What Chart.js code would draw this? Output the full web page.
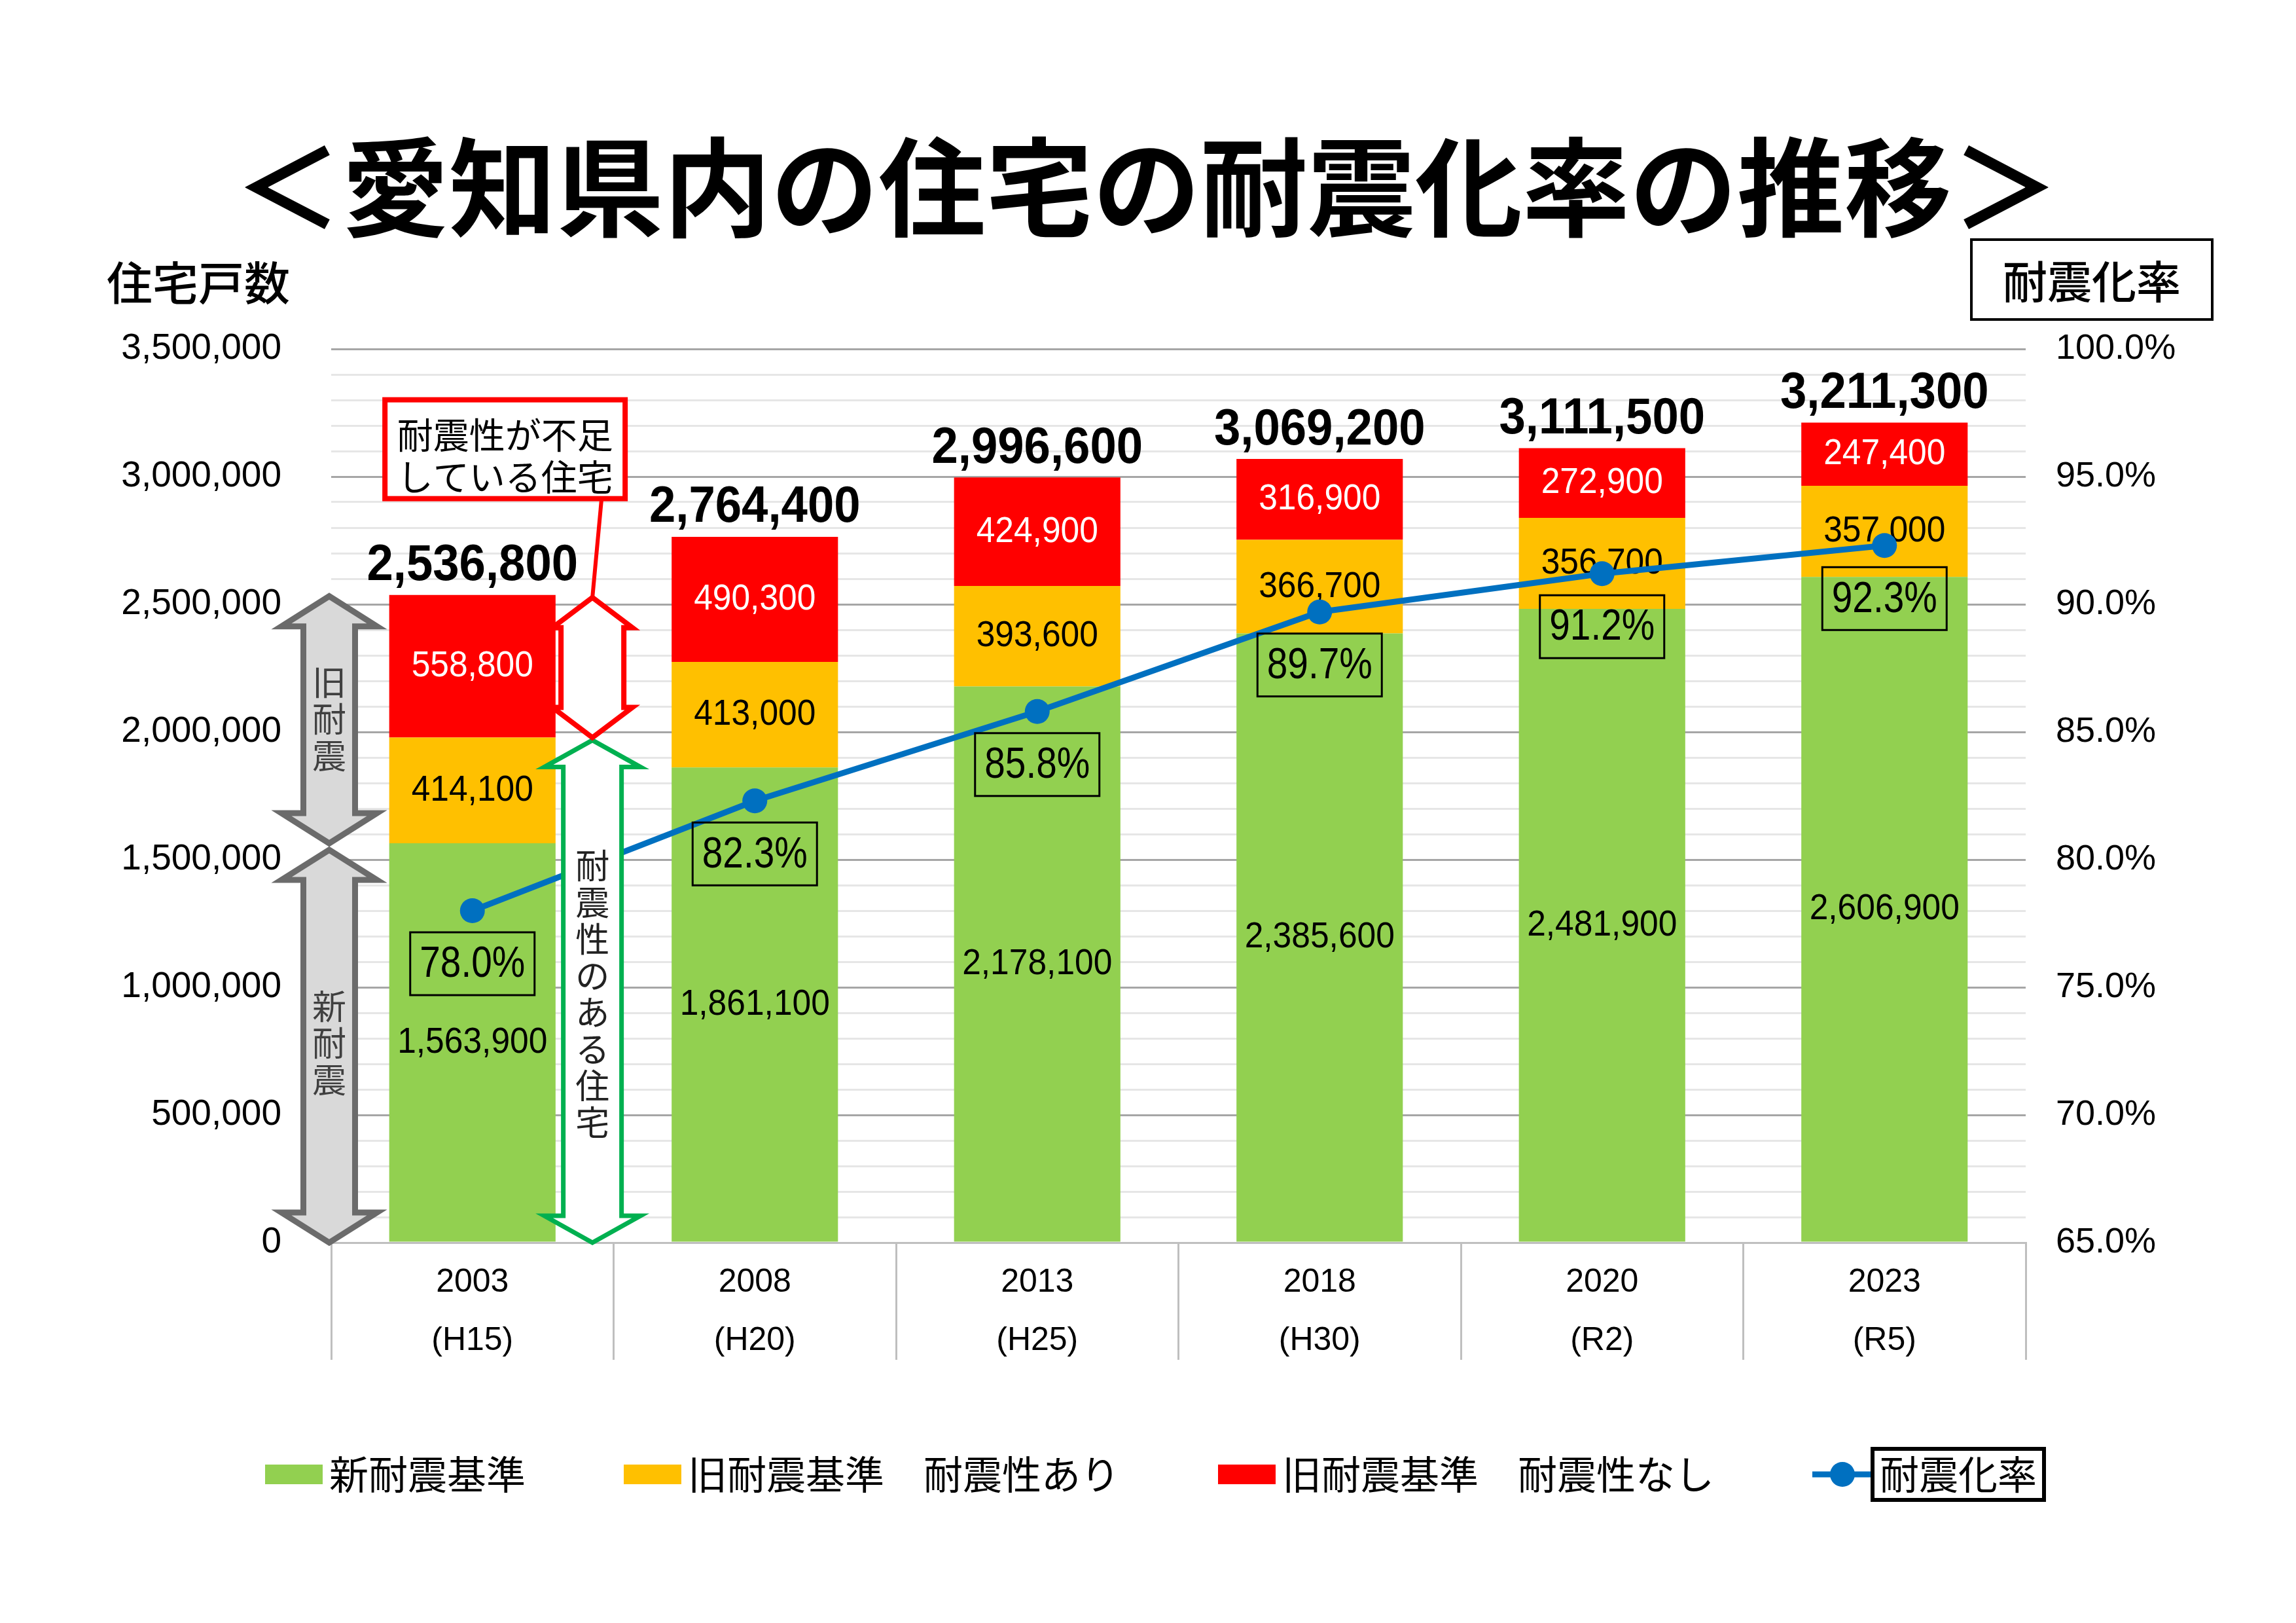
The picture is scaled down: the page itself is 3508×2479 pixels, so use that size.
<!DOCTYPE html>
<html lang="ja">
<head>
<meta charset="utf-8">
<title>愛知県内の住宅の耐震化率の推移</title>
<script src="https://cdn.jsdelivr.net/npm/chart.js@4.4.1/dist/chart.umd.min.js"></script>
<style>
  html, body { margin: 0; padding: 0; background: #fff; }
  canvas { display: block; }
</style>
</head>
<body>
<canvas id="chart" width="3508" height="2479"></canvas>
<script>
// data
const years = [['2003', '(H15)'], ['2008', '(H20)'], ['2013', '(H25)'], ['2018', '(H30)'], ['2020', '(R2)'], ['2023', '(R5)']];
const newStd = [1563900, 1861100, 2178100, 2385600, 2481900, 2606900];
const oldSafe = [414100, 413000, 393600, 366700, 356700, 357000];
const oldUnsafe = [558800, 490300, 424900, 316900, 272900, 247400];
const totals = [2536800, 2764400, 2996600, 3069200, 3111500, 3211300];
const rate = [78.0, 82.3, 85.8, 89.7, 91.2, 92.3];

const countMax = 3500000, countStep = 100000, countLabelStep = 500000;
const rateMin = 65, rateMax = 100, rateStep = 5;

const GREEN = '#92d050', ORANGE = '#ffc000', RED = '#ff0000', BLUE = '#0070c0';
const NUM = "'Liberation Sans', Arial, sans-serif";
const JP = "'Noto Sans CJK JP', 'Noto Sans', sans-serif";
const fmt = v => v.toLocaleString('en-US');

function doubleArrow(ctx, cx, top, bottom, shaftW, headW, headH, fill, stroke, lw) {
    ctx.beginPath();
    ctx.moveTo(cx, top);
    ctx.lineTo(cx + headW / 2, top + headH);
    ctx.lineTo(cx + shaftW / 2, top + headH);
    ctx.lineTo(cx + shaftW / 2, bottom - headH);
    ctx.lineTo(cx + headW / 2, bottom - headH);
    ctx.lineTo(cx, bottom);
    ctx.lineTo(cx - headW / 2, bottom - headH);
    ctx.lineTo(cx - shaftW / 2, bottom - headH);
    ctx.lineTo(cx - shaftW / 2, top + headH);
    ctx.lineTo(cx - headW / 2, top + headH);
    ctx.closePath();
    ctx.fillStyle = fill;
    ctx.fill();
    ctx.lineWidth = lw;
    ctx.strokeStyle = stroke;
    ctx.lineJoin = 'miter';
    ctx.stroke();
}

function verticalText(ctx, text, cx, cy, size, step, color) {
    const chars = [...text];
    const start = cy - (chars.length - 1) * step / 2;
    ctx.font = `${size}px ${JP}`;
    ctx.fillStyle = color;
    ctx.textAlign = 'center';
    ctx.textBaseline = 'middle';
    chars.forEach((c, i) => ctx.fillText(c, cx, start + i * step));
}

// the reference numbers use a condensed face, so squeeze them a bit
function narrowText(ctx, txt, x, y, font, sx) {
    ctx.save();
    ctx.translate(x, y);
    ctx.scale(sx, 1);
    ctx.font = font;
    ctx.textAlign = 'center';
    ctx.textBaseline = 'middle';
    ctx.fillText(txt, 0, 0);
    ctx.restore();
}

// value labels inside the bars, drawn before the line so the line sits on top
const barLabels = {
    id: 'barLabels',
    beforeDatasetDraw(chart, args) {
        if (args.index !== 3) return;
        const ctx = chart.ctx;
        [0, 1, 2].forEach(di => {
            chart.getDatasetMeta(di).data.forEach((bar, i) => {
                ctx.fillStyle = di === 2 ? '#fff' : '#000';
                narrowText(ctx, fmt(chart.data.datasets[di].data[i]), bar.x, (bar.y + bar.base) / 2, `56px ${NUM}`, 0.92);
            });
        });
    }
};

const decorations = {
    id: 'decorations',
    afterDatasetsDraw(chart) {
        const ctx = chart.ctx;
        const xs = chart.scales.x, ys = chart.scales.y;
        const area = chart.chartArea;
        ctx.save();

        // left grey arrows: old / new standard
        const gx = area.left - 3;
        const yTotal = ys.getPixelForValue(totals[0]);
        const yNew = ys.getPixelForValue(newStd[0]);
        const yZero = ys.getPixelForValue(0);
        doubleArrow(ctx, gx, yTotal + 2, yNew, 79, 146, 46, '#d9d9d9', '#6b6b6b', 9);
        doubleArrow(ctx, gx, yNew + 10, yZero, 79, 146, 46, '#d9d9d9', '#6b6b6b', 9);
        verticalText(ctx, '旧耐震', gx, (yTotal + yNew) / 2, 52, 56, '#404040');
        verticalText(ctx, '新耐震', gx, (yNew + yZero) / 2, 52, 56, '#404040');

        // green / red arrows between first and second bar
        const ax = xs.getPixelForValue(0.425);
        const yOld = ys.getPixelForValue(newStd[0] + oldSafe[0]);
        doubleArrow(ctx, ax, yOld + 4, yZero, 89, 147, 41, '#fff', '#00b050', 7);
        verticalText(ctx, '耐震性のある住宅', ax, (yOld + yZero) / 2 + 6, 52, 56, '#222');
        doubleArrow(ctx, ax, yTotal + 4, yOld, 96, 122, 46, '#fff', RED, 8);

        // callout box
        const bx = ax - 317, bw = 367, bt = yTotal - 298, bh = 151;
        ctx.strokeStyle = RED;
        ctx.lineWidth = 6;
        ctx.beginPath();
        ctx.moveTo(ax + 14, bt + bh);
        ctx.lineTo(ax, yTotal + 4);
        ctx.stroke();
        ctx.fillStyle = '#fff';
        ctx.fillRect(bx, bt, bw, bh);
        ctx.lineWidth = 8;
        ctx.strokeRect(bx, bt, bw, bh);
        ctx.fillStyle = '#000';
        ctx.font = `55px ${JP}`;
        ctx.textAlign = 'center';
        ctx.textBaseline = 'middle';
        ctx.fillText('耐震性が不足', bx + bw / 2, bt + 53);
        ctx.fillText('している住宅', bx + bw / 2, bt + 117);

        // totals above bars
        chart.getDatasetMeta(2).data.forEach((bar, i) => {
            narrowText(ctx, fmt(totals[i]), bar.x, bar.y - 44, `bold 78px ${NUM}`, 0.93);
        });

        // boxed rate labels below the points
        ctx.lineWidth = 3;
        ctx.strokeStyle = '#000';
        chart.getDatasetMeta(3).data.forEach((pt, i) => {
            const txt = rate[i].toFixed(1) + '%';
            const cy = pt.y + 81;
            ctx.strokeRect(pt.x - 95, cy - 48, 190, 96);
            narrowText(ctx, txt, pt.x, cy + 2, `66px ${NUM}`, 0.86);
        });
        ctx.restore();
    },
    afterDraw(chart) {
        const ctx = chart.ctx;
        ctx.save();
        ctx.fillStyle = '#000';
        ctx.textBaseline = 'middle';

        ctx.textAlign = 'center';
        ctx.font = `bold 164px ${JP}`;
        ctx.fillText('＜愛知県内の住宅の耐震化率の推移＞', 1752, 286);

        ctx.textAlign = 'left';
        ctx.font = `500 70px ${JP}`;
        ctx.fillText('住宅戸数', 163, 432);

        ctx.lineWidth = 4;
        ctx.strokeStyle = '#000';
        ctx.strokeRect(3012, 366, 368, 122);
        ctx.textAlign = 'center';
        ctx.font = `500 68px ${JP}`;
        ctx.fillText('耐震化率', 3196, 430);

        // legend
        const ly = 2252;
        let lx = 405;
        ctx.font = `60px ${JP}`;
        ctx.textAlign = 'left';
        chart.data.datasets.forEach(ds => {
            const tw = ctx.measureText(ds.label).width;
            if (ds.type === 'line') {
                ctx.strokeStyle = ds.borderColor;
                ctx.lineWidth = 9;
                ctx.beginPath();
                ctx.moveTo(lx, ly);
                ctx.lineTo(lx + 92, ly);
                ctx.stroke();
                ctx.fillStyle = ds.borderColor;
                ctx.beginPath();
                ctx.arc(lx + 46, ly, 19, 0, Math.PI * 2);
                ctx.fill();
                lx += 92;
                ctx.strokeStyle = '#000';
                ctx.lineWidth = 6;
                ctx.strokeRect(lx, ly - 39, tw + 22, 78);
                ctx.fillStyle = '#000';
                ctx.fillText(ds.label, lx + 11, ly);
            } else {
                ctx.fillStyle = ds.backgroundColor;
                ctx.fillRect(lx, ly - 15, 88, 30);
                ctx.fillStyle = '#000';
                ctx.fillText(ds.label, lx + 98, ly);
                lx += 98 + tw + 150;
            }
        });
        ctx.restore();
    }
};

const countGridColor = c => (c.tick && c.tick.value % countLabelStep === 0) ? '#a6a6a6' : '#e6e6e6';

new Chart(document.getElementById('chart'), {
    type: 'bar',
    data: {
        labels: years,
        datasets: [
            { label: '新耐震基準', data: newStd, backgroundColor: GREEN, stack: 's', yAxisID: 'y', order: 1 },
            { label: '旧耐震基準　耐震性あり', data: oldSafe, backgroundColor: ORANGE, stack: 's', yAxisID: 'y', order: 1 },
            { label: '旧耐震基準　耐震性なし', data: oldUnsafe, backgroundColor: RED, stack: 's', yAxisID: 'y', order: 1 },
            {
                type: 'line', label: '耐震化率', data: rate, yAxisID: 'y1', order: 0,
                borderColor: BLUE, backgroundColor: BLUE, borderWidth: 9, tension: 0,
                pointRadius: 19, pointBackgroundColor: BLUE, pointBorderWidth: 0
            }
        ]
    },
    options: {
        responsive: false,
        devicePixelRatio: 1,
        animation: false,
        barPercentage: 0.589,
        categoryPercentage: 1.0,
        layout: { padding: { top: 533, bottom: 402, left: 0, right: 0 } },
        plugins: { legend: { display: false }, tooltip: { enabled: false } },
        scales: {
            x: {
                stacked: true,
                grid: { offset: true, drawOnChartArea: false, color: '#bfbfbf', lineWidth: 3, tickLength: 179 },
                border: { color: '#bfbfbf', width: 3 },
                ticks: { padding: -162, color: '#000', maxRotation: 0, autoSkip: false,
                    font: { family: NUM, size: 50, lineHeight: 1.78 } },
                afterFit: s => { s.height = 179; }
            },
            y: {
                stacked: true,
                min: 0, max: countMax,
                grid: { color: countGridColor, lineWidth: 3, drawTicks: false },
                border: { display: false },
                ticks: {
                    stepSize: countStep, maxTicksLimit: 100, autoSkip: false, padding: 76, color: '#000',
                    font: { family: NUM, size: 55 },
                    callback: v => v % countLabelStep === 0 ? fmt(v) : ''
                },
                afterFit: s => { s.width = 506; }
            },
            y1: {
                position: 'right',
                min: rateMin, max: rateMax,
                grid: { drawOnChartArea: false, drawTicks: false },
                border: { display: false },
                ticks: { stepSize: rateStep, padding: 46, color: '#000', font: { family: NUM, size: 54 },
                    callback: v => v.toFixed(1) + '%' },
                afterFit: s => { s.width = 413; }
            }
        }
    },
    plugins: [barLabels, decorations]
});
</script>
</body>
</html>
